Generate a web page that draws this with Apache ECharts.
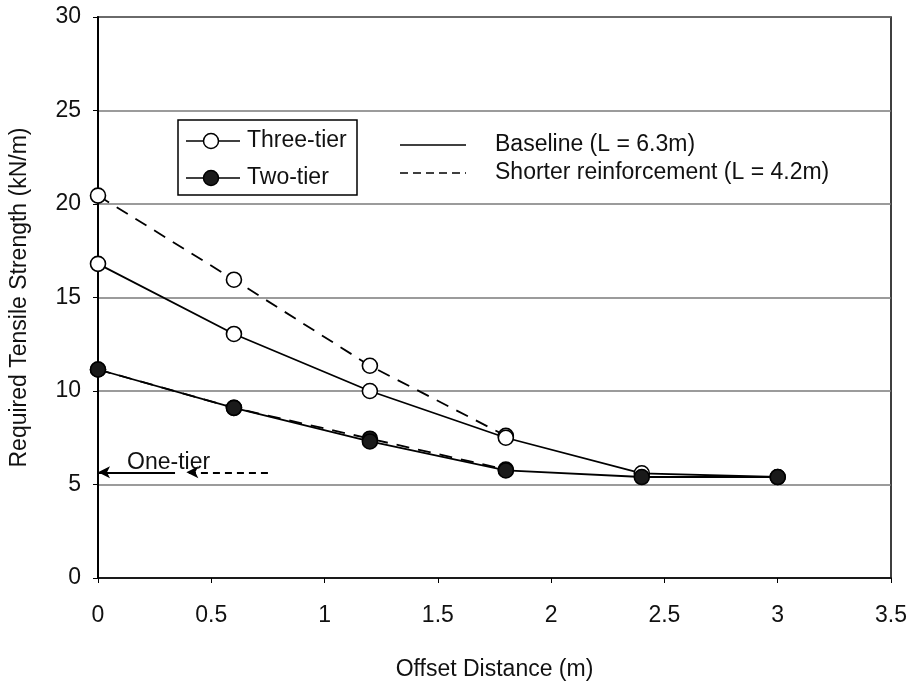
<!DOCTYPE html>
<html>
<head>
<meta charset="utf-8">
<script src="https://cdn.jsdelivr.net/npm/echarts@6/dist/echarts.min.js"></script>
<style>
html,body{margin:0;padding:0;background:#fff;}
#chart{width:910px;height:686px;}
</style>
</head>
<body>
<div id="chart"></div>
<script>
// ---- Data ----
var offsets = [0, 0.6, 1.2, 1.8, 2.4, 3.0];
var offsetsShort = [0, 0.6, 1.2, 1.8];
var threeTierBaseline = [16.8, 13.05, 10.0, 7.5, 5.6, 5.4];
var threeTierShorter = [20.45, 15.95, 11.35, 7.6];
var twoTierBaseline = [11.15, 9.1, 7.3, 5.75, 5.4, 5.4];
var twoTierShorter = [11.15, 9.1, 7.45, 5.8];
var oneTierValue = 5.65;
var oneTierBaselineArrow = [0.34, 0];   // from, to (x)
var oneTierShorterArrow = [0.75, 0.39]; // from, to (x)
var xTicks = [0, 0.5, 1, 1.5, 2, 2.5, 3, 3.5];
var yTicks = [0, 5, 10, 15, 20, 25, 30];

var FONT = 'Liberation Sans, Arial, sans-serif';
var FS = 23;

function pairs(xs, ys) { return xs.map(function (x, i) { return [x, ys[i]]; }); }

var openMarker = { color: '#fff', borderColor: '#000', borderWidth: 1.6 };
var filledMarker = { color: '#1a1a1a', borderColor: '#000', borderWidth: 1.6 };

var chart = echarts.init(document.getElementById('chart'));
chart.setOption({
  animation: false,
  backgroundColor: '#fff',
  grid: { left: 90, right: 19, top: 17, bottom: 93, show: true, borderColor: '#000', borderWidth: 1.5, backgroundColor: 'transparent' },
  xAxis: {
    type: 'value', min: xTicks[0], max: xTicks[xTicks.length - 1], interval: 0.5,
    name: 'Offset Distance (m)', nameLocation: 'middle', nameGap: 80,
    nameTextStyle: { fontFamily: FONT, fontSize: FS, color: '#111' },
    axisLine: { lineStyle: { color: '#000', width: 1.5 } },
    axisTick: { show: true, length: 5, lineStyle: { color: '#000' } },
    axisLabel: { fontFamily: FONT, fontSize: FS, color: '#111', margin: 26 },
    splitLine: { show: false }
  },
  yAxis: {
    type: 'value', min: yTicks[0], max: yTicks[yTicks.length - 1], interval: 5,
    name: 'Required Tensile Strength (kN/m)', nameLocation: 'middle', nameGap: 67,
    nameTextStyle: { fontFamily: FONT, fontSize: FS, color: '#111' },
    axisLine: { show: true, lineStyle: { color: '#000', width: 2 } },
    axisTick: { show: true, length: 5, lineStyle: { color: '#000' } },
    axisLabel: { fontFamily: FONT, fontSize: FS, color: '#111', margin: 17 },
    splitLine: { show: true, lineStyle: { color: '#7a7a7a', width: 1.5 } }
  },
  series: [
    {
      name: 'Three-tier shorter', type: 'line', data: pairs(offsetsShort, threeTierShorter),
      symbol: 'circle', symbolSize: 15, itemStyle: openMarker,
      lineStyle: { color: '#000', width: 1.8, type: [13, 9] }, z: 2
    },
    {
      name: 'Three-tier baseline', type: 'line', data: pairs(offsets, threeTierBaseline),
      symbol: 'circle', symbolSize: 15, itemStyle: openMarker,
      lineStyle: { color: '#000', width: 1.8 }, z: 3
    },
    {
      name: 'Two-tier shorter', type: 'line', data: pairs(offsetsShort, twoTierShorter),
      symbol: 'circle', symbolSize: 15, itemStyle: filledMarker,
      lineStyle: { color: '#000', width: 1.8, type: [13, 9] }, z: 4
    },
    {
      name: 'Two-tier baseline', type: 'line', data: pairs(offsets, twoTierBaseline),
      symbol: 'circle', symbolSize: 15, itemStyle: filledMarker,
      lineStyle: { color: '#000', width: 1.8 }, z: 5,
      markLine: {
        silent: true, animation: false, label: { show: false },
        symbol: ['none', 'arrow'], symbolSize: [9, 12],
        data: [
          [{ coord: [oneTierBaselineArrow[0], oneTierValue], lineStyle: { type: 'solid', color: '#000', width: 1.8 } },
           { coord: [oneTierBaselineArrow[1], oneTierValue] }],
          [{ coord: [oneTierShorterArrow[0], oneTierValue], lineStyle: { type: [7, 5], color: '#000', width: 1.8 } },
           { coord: [oneTierShorterArrow[1], oneTierValue] }]
        ]
      }
    }
  ],
  graphic: [
    { type: 'text', left: 127, top: 451, style: { text: 'One-tier', fontFamily: FONT, fontSize: FS, fill: '#111' } },
    // legend box
    { type: 'rect', shape: { x: 178, y: 120, width: 179, height: 75 }, style: { fill: '#fff', stroke: '#000', lineWidth: 1.5 }, z: 10 },
    { type: 'line', shape: { x1: 186, y1: 141, x2: 240, y2: 141 }, style: { stroke: '#000', lineWidth: 1.6 }, z: 11 },
    { type: 'circle', shape: { cx: 211, cy: 141, r: 7.5 }, style: { fill: '#fff', stroke: '#000', lineWidth: 1.5 }, z: 12 },
    { type: 'text', x: 247, y: 141, style: { text: 'Three-tier', fontFamily: FONT, fontSize: FS, fill: '#111', verticalAlign: 'middle' }, z: 12 },
    { type: 'line', shape: { x1: 186, y1: 178, x2: 240, y2: 178 }, style: { stroke: '#000', lineWidth: 1.6 }, z: 11 },
    { type: 'circle', shape: { cx: 211, cy: 178, r: 7.5 }, style: { fill: '#1a1a1a', stroke: '#000', lineWidth: 1.5 }, z: 12 },
    { type: 'text', x: 247, y: 178, style: { text: 'Two-tier', fontFamily: FONT, fontSize: FS, fill: '#111', verticalAlign: 'middle' }, z: 12 },
    // line-style legend
    { type: 'line', shape: { x1: 400, y1: 145, x2: 466, y2: 145 }, style: { stroke: '#000', lineWidth: 1.6 }, z: 11 },
    { type: 'text', x: 495, y: 145, style: { text: 'Baseline (L = 6.3m)', fontFamily: FONT, fontSize: FS, fill: '#111', verticalAlign: 'middle' }, z: 12 },
    { type: 'line', shape: { x1: 400, y1: 173, x2: 466, y2: 173 }, style: { stroke: '#000', lineWidth: 1.6, lineDash: [8, 5] }, z: 11 },
    { type: 'text', x: 495, y: 173, style: { text: 'Shorter reinforcement (L = 4.2m)', fontFamily: FONT, fontSize: FS, fill: '#111', verticalAlign: 'middle' }, z: 12 }
  ]
});
</script>
</body>
</html>
